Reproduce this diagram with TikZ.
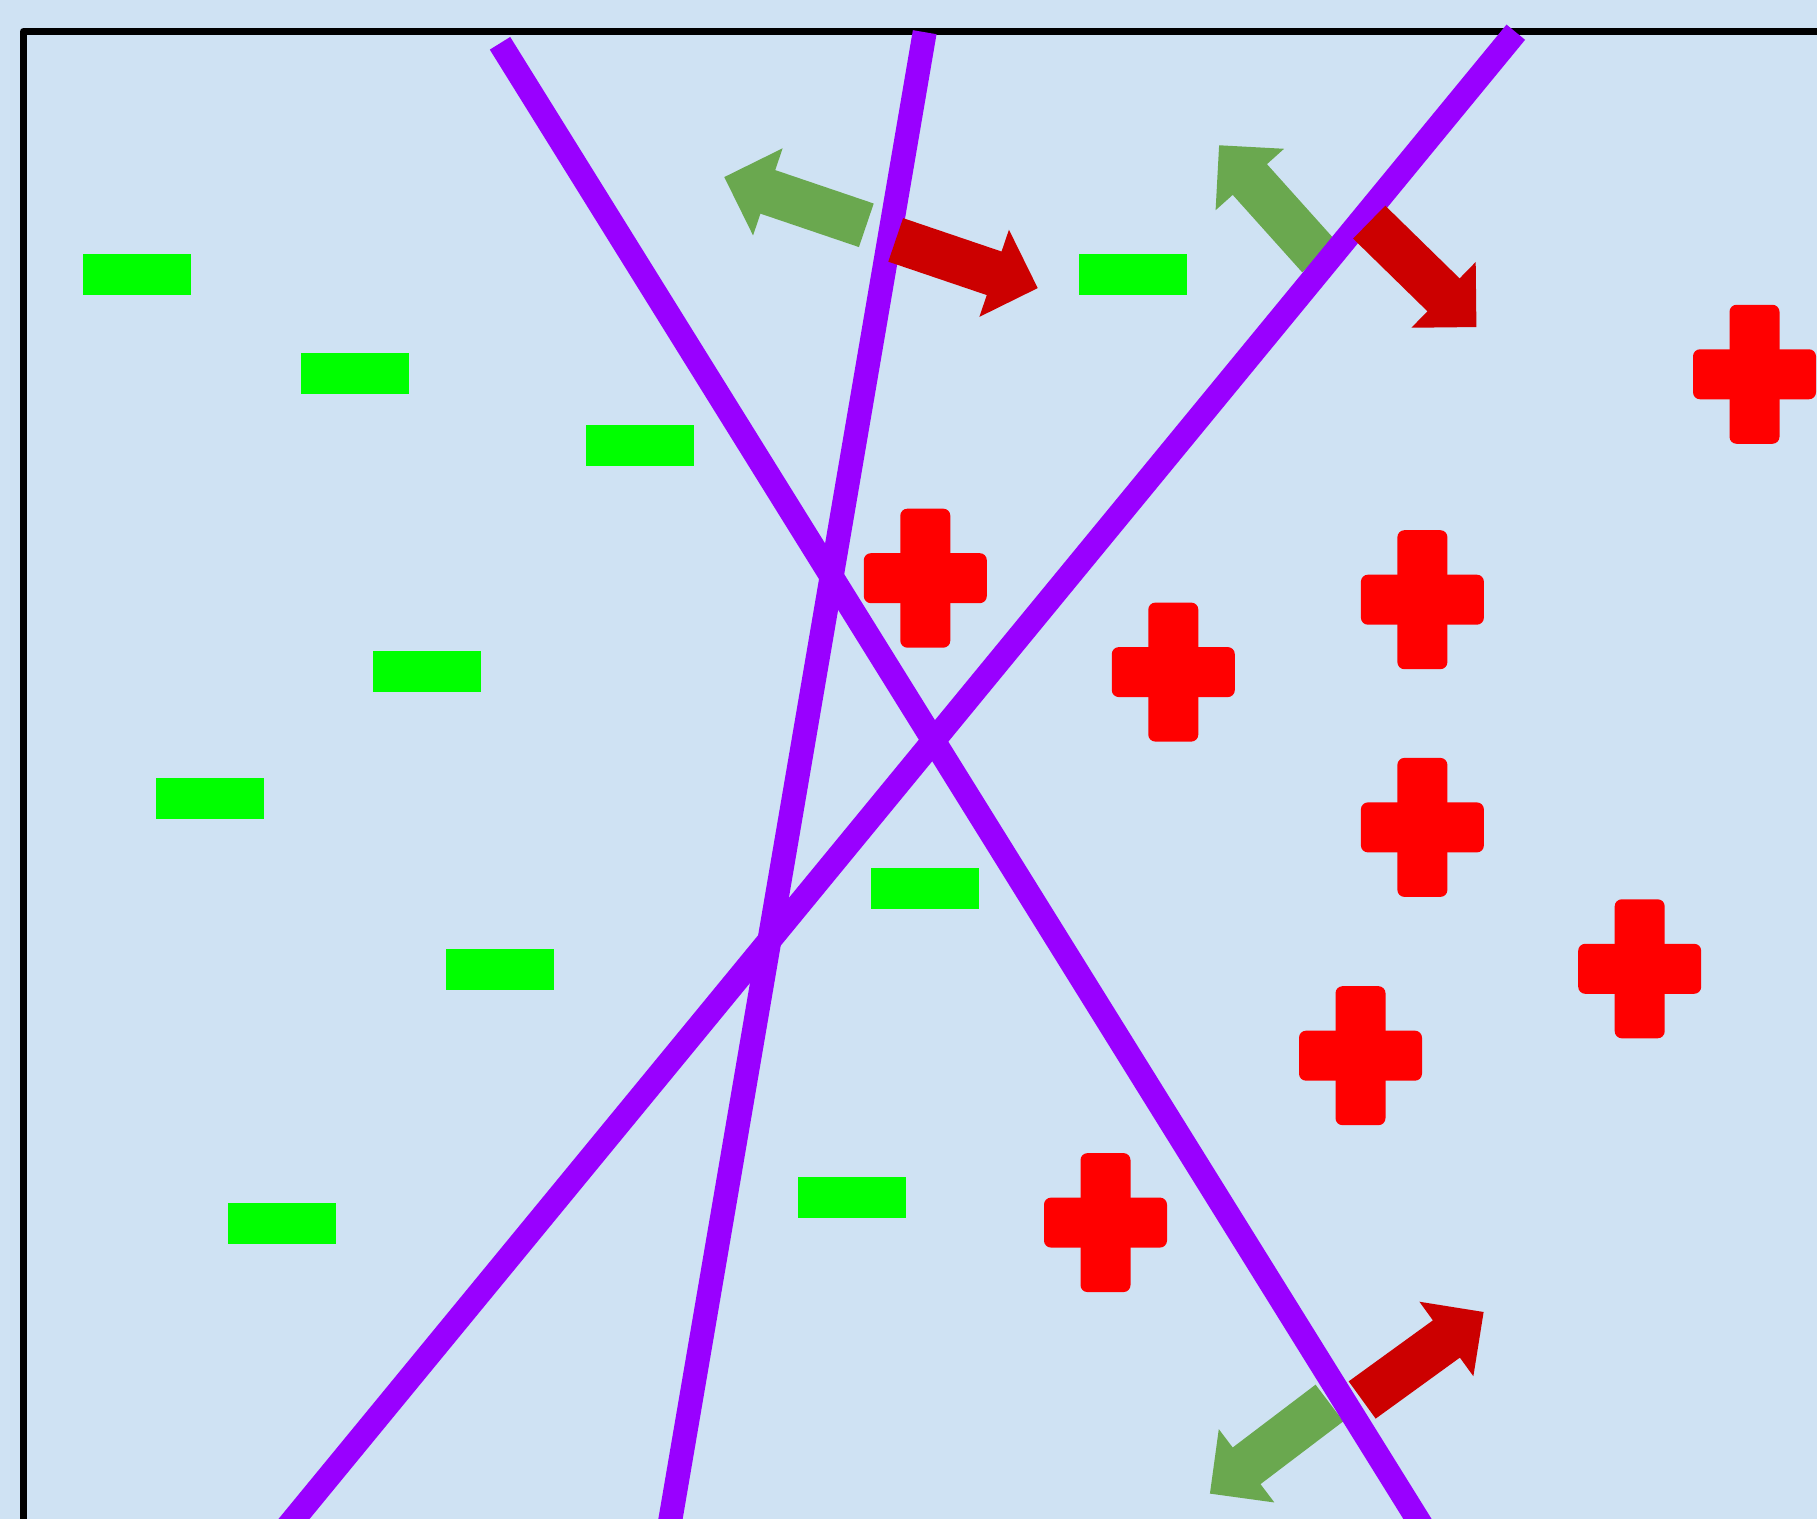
\documentclass[tikz,border=0pt]{standalone}
\usetikzlibrary{calc}
\definecolor{bgblue}{HTML}{CFE2F3}
\definecolor{rectgreen}{HTML}{00FF00}
\definecolor{crossred}{HTML}{FF0000}
\definecolor{arrowred}{HTML}{CC0000}
\definecolor{arrowgreen}{HTML}{6AA84F}
\definecolor{linepurple}{HTML}{9900FF}
\tikzset{
  greenrect/.style={fill=rectgreen},
  purpleline/.style={draw=linepurple, line width=0.24cm, line cap=butt},
  framestyle/.style={draw=black, line width=0.07cm, line join=round},
  pics/blockarrow/.style={code={
    \fill (-75,-23) -- (29,-23) -- (29,-46) -- (75,0) -- (29,46) -- (29,23) -- (-75,23) -- cycle;
  }},
  pics/redcross/.style={code={
    \fill[crossred, rounded corners=0.07cm] (-25,-69.5) rectangle (25,69.5);
    \fill[crossred, rounded corners=0.07cm] (-61.5,-25) rectangle (61.5,25);
  }},
}
\begin{document}
\begin{tikzpicture}[x=0.01cm, y=-0.01cm]
\useasboundingbox (0,0) rectangle (1817,1519);
\clip (0,0) rectangle (1817,1519);
\fill[bgblue] (0,0) rectangle (1817,1519);
% frame
\draw[framestyle] (23.5,1560) -- (23.5,31.5) -- (1860,31.5);
% green rectangles
\foreach \gx/\gy in {83/254, 301/353, 586/425, 1079/254, 373/651, 156/778, 871/868, 446/949, 228/1203, 798/1177}
  \fill[greenrect] (\gx,\gy) rectangle ++(108,41);
% red crosses
\foreach \cx/\cy in {925.3/578.2, 1754.5/374.3, 1422.4/599.7, 1173.3/672.1, 1422.4/827.4, 1639.7/968.8, 1360.5/1055.7, 1105.5/1222.6}
  \pic at (\cx,\cy) {redcross};
% green block arrows (below the lines)
\pic[fill=arrowgreen, rotate=161.25] at (795.3,201.2) {blockarrow};
\pic[fill=arrowgreen, rotate=131.9] at (1269.2,201.1) {blockarrow};
\pic[fill=arrowgreen, rotate=-142.83] at (1269.7,1448.3) {blockarrow};
% purple lines
\coordinate (l1a) at (500,43.3);
\coordinate (l1b) at (1417.5,1519);
\coordinate (l2a) at (924.7,32.2);
\coordinate (l2b) at (670.5,1519);
\coordinate (l3a) at (1515.8,32.2);
\coordinate (l3b) at (294,1519);
\draw[purpleline] (l1a) -- ($(l1a)!1.05!(l1b)$);
\draw[purpleline] (l2a) -- ($(l2a)!1.05!(l2b)$);
\draw[purpleline] (l3a) -- ($(l3a)!1.05!(l3b)$);
% red block arrows (above the lines)
\pic[fill=arrowred, rotate=-18.74] at (966.7,264.0) {blockarrow};
\pic[fill=arrowred, rotate=-44.37] at (1422.8,274.6) {blockarrow};
\pic[fill=arrowred, rotate=35.92] at (1422.9,1356.0) {blockarrow};
\end{tikzpicture}
\end{document}
